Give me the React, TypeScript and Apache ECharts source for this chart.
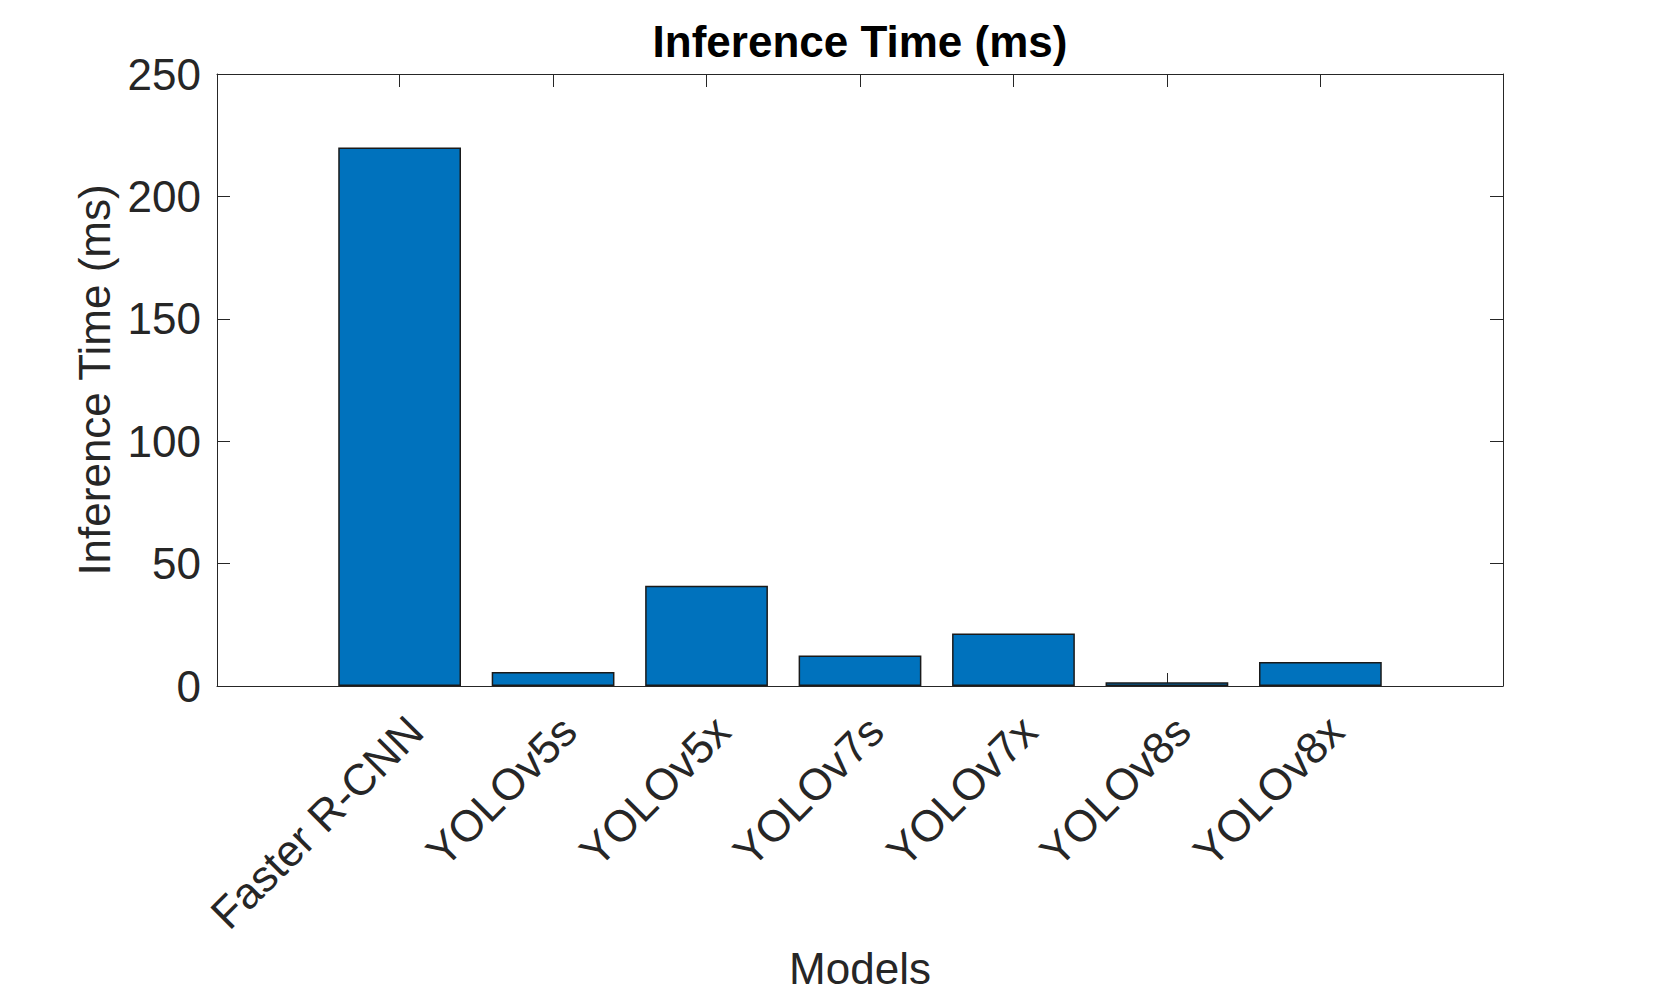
import React, { useEffect, useRef } from "react";
import * as echarts from "echarts";

const categories = ["Faster R-CNN", "YOLOv5s", "YOLOv5x", "YOLOv7s", "YOLOv7x", "YOLOv8s", "YOLOv8x"];
const inferenceMs = [220, 5.7, 41, 12.5, 21.4, 1.5, 9.8];
const positions = [1, 2, 3, 4, 5, 6, 7];
const yTicks = [0, 50, 100, 150, 200, 250];

const FONT = "'Liberation Sans', Arial, Helvetica, sans-serif";
const AX = "#262626";

export default function App() {
  const ref = useRef<HTMLDivElement>(null);
  useEffect(() => {
    document.body.style.margin = "0";
    const chart = echarts.init(ref.current!, null, { renderer: "svg" });
    const tickStyle = { show: true, inside: true, length: 13, lineStyle: { color: AX, width: 1 } };
    chart.setOption({
      animation: false,
      backgroundColor: "#ffffff",
      title: {
        text: "Inference Time (ms)",
        left: 855,
        textAlign: "center",
        top: 14,
        textStyle: { fontFamily: FONT, fontSize: 44, fontWeight: "bold", color: "#000000" },
      },
      grid: { left: 217, right: 158, top: 74, bottom: 311, show: false },
      xAxis: [
        {
          type: "value",
          min: 1 - 1.19,
          max: 7 + 1.19,
          name: "Models",
          nameLocation: "middle",
          nameGap: 260,
          nameTextStyle: { fontFamily: FONT, fontSize: 44, color: AX },
          axisLine: { show: true, onZero: false, lineStyle: { color: AX, width: 1 } },
          axisTick: { ...tickStyle, customValues: positions },
          axisLabel: {
            customValues: positions,
            formatter: (v: number) => categories[Math.round(v) - 1] ?? "",
            rotate: 45,
            align: "right",
            verticalAlign: "top",
            margin: 22,
            fontFamily: FONT,
            fontSize: 44,
            color: AX,
          },
          splitLine: { show: false },
        },
        {
          type: "value",
          position: "top",
          min: 1 - 1.19,
          max: 7 + 1.19,
          axisLine: { show: true, onZero: false, lineStyle: { color: AX, width: 1 } },
          axisTick: { ...tickStyle, customValues: positions },
          axisLabel: { show: false },
          splitLine: { show: false },
        },
      ],
      yAxis: [
        {
          type: "value",
          min: 0,
          max: 250,
          interval: 50,
          name: "Inference Time (ms)",
          nameLocation: "middle",
          nameGap: 101,
          nameTextStyle: { fontFamily: FONT, fontSize: 44, color: AX },
          axisLine: { show: true, onZero: false, lineStyle: { color: AX, width: 1 } },
          axisTick: tickStyle,
          axisLabel: {
            margin: 16,
            fontFamily: FONT,
            fontSize: 44,
            color: AX,
            customValues: yTicks,
          },
          splitLine: { show: false },
        },
        {
          type: "value",
          position: "right",
          min: 0,
          max: 250,
          interval: 50,
          axisLine: { show: true, onZero: false, lineStyle: { color: AX, width: 1 } },
          axisTick: tickStyle,
          axisLabel: { show: false },
          splitLine: { show: false },
        },
      ],
      series: [
        {
          type: "bar",
          xAxisIndex: 0,
          yAxisIndex: 0,
          barWidth: "80%",
          data: positions.map((p, i) => [p, inferenceMs[i]]),
          itemStyle: { color: "#0072BD", borderColor: "#1a1a1a", borderWidth: 1.5 },
          z: 1,
        },
      ],
    });
    return () => chart.dispose();
  }, []);
  return <div ref={ref} style={{ width: 1661, height: 997 }} />;
}
